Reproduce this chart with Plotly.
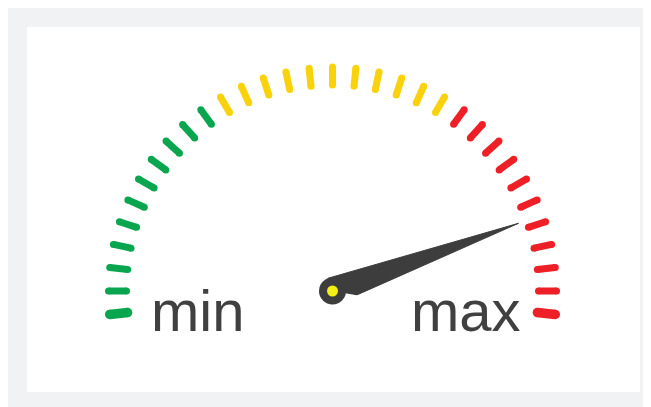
import math
import plotly.graph_objects as go

W, H = 651, 407
OFF = 8  # page body margin, the figure lands 8px right/down

# gauge ticks, in degrees swept from the "min" end (clockwise)
green_ticks = [0, 6, 12, 18, 24, 30, 36, 42, 48, 54, 60]
yellow_ticks = [66, 72, 78, 84, 90, 96, 102, 108, 114, 120, 126]
red_ticks = [132, 138, 144, 150, 156, 162, 168, 174, 180, 186, 192]
needle_value = 166
labels = ["min", "max"]

GREEN = "#0aa64f"
YELLOW = "#f9d20b"
RED = "#ee1f26"
DARK = "#3d3d3d"

R_IN, R_OUT = 206, 224
R_MAX = 240
CX, CY = 332.5 - OFF, 291 - OFF


def tick_segments(ticks):
    r, th = [], []
    for t in ticks:
        r += [R_IN, R_OUT, None]
        th += [t, t, None]
    return r, th


fig = go.Figure()

for ticks, col in [(green_ticks, GREEN), (yellow_ticks, YELLOW), (red_ticks, RED)]:
    inner = [t for t in ticks if t not in (0, 192)]
    ends = [t for t in ticks if t in (0, 192)]
    r, th = tick_segments(inner)
    fig.add_trace(go.Scatterpolar(
        r=r, theta=th, mode='lines+markers',
        line=dict(color=col, width=7),
        marker=dict(color=col, size=7),
        hoverinfo='skip', connectgaps=False,
    ))
    if ends:
        r, th = tick_segments(ends)
        fig.add_trace(go.Scatterpolar(
            r=r, theta=th, mode='lines+markers',
            line=dict(color=col, width=9.5),
            marker=dict(color=col, size=9.5),
            hoverinfo='skip', connectgaps=False,
        ))

# needle
fig.add_trace(go.Scatterpolar(
    r=[198, 13.5, 13.5, 198],
    theta=[needle_value, needle_value - 90, needle_value + 90, needle_value],
    mode='lines', fill='toself', fillcolor=DARK,
    line=dict(color=DARK, width=1), hoverinfo='skip',
))
# hub
fig.add_trace(go.Scatterpolar(
    r=[0], theta=[0], mode='markers',
    marker=dict(color=DARK, size=27, line=dict(width=0)), hoverinfo='skip',
))
fig.add_trace(go.Scatterpolar(
    r=[0], theta=[0], mode='markers',
    marker=dict(color="#f4ef16", size=11, line=dict(width=0)), hoverinfo='skip',
))

s = math.sin(math.radians(10))
dom_x = [(CX - R_MAX) / W, (CX + R_MAX) / W]
dom_y = [1 - (CY + R_MAX * s) / H, 1 - (CY - R_MAX) / H]

label_font = dict(family='Liberation Sans, Arial', size=58, color='#404040')

fig.update_layout(
    width=W, height=H,
    margin=dict(l=0, r=0, t=0, b=0),
    paper_bgcolor='#f1f2f4',
    showlegend=False,
    polar=dict(
        domain=dict(x=dom_x, y=dom_y),
        sector=[-10, 190],
        bgcolor='rgba(0,0,0,0)',
        radialaxis=dict(range=[0, R_MAX], visible=False),
        angularaxis=dict(rotation=186, direction='clockwise', visible=False),
    ),
    shapes=[
        dict(type='rect', xref='paper', yref='paper', layer='below',
             x0=(27 - OFF) / W, x1=(640 - OFF) / W,
             y0=1 - (392 - OFF) / H, y1=1 - (27 - OFF) / H,
             fillcolor='white', line=dict(width=0)),
    ],
    annotations=[
        dict(text=labels[0], xref='paper', yref='paper',
             x=(149 - OFF) / W, y=1 - (310 - OFF) / H,
             xanchor='left', yanchor='middle', showarrow=False, font=label_font),
        dict(text=labels[1], xref='paper', yref='paper',
             x=(409 - OFF) / W, y=1 - (310 - OFF) / H,
             xanchor='left', yanchor='middle', showarrow=False, font=label_font),
    ],
)

fig.write_html("out.html")
